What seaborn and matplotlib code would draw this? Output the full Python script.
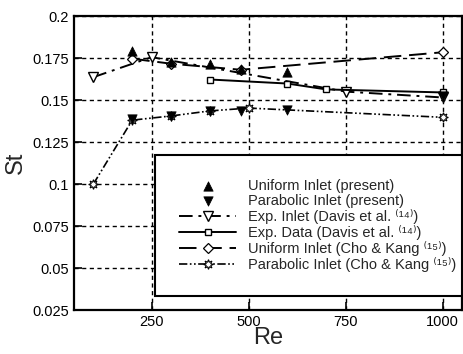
import matplotlib
matplotlib.use("Agg")
import matplotlib.pyplot as plt
import seaborn as sns
import pandas as pd

# Data
re_uni_present = [200, 300, 400, 480, 600]
st_uni_present = [0.179, 0.1725, 0.1712, 0.1685, 0.1668]

re_par_present = [200, 300, 400, 480, 600, 1000]
st_par_present = [0.1386, 0.1405, 0.1432, 0.1435, 0.1443, 0.1525]

re_exp_inlet = [100, 250, 750, 1000]
st_exp_inlet = [0.1636, 0.1755, 0.155, 0.1515]

re_exp_data = [400, 600, 700, 1000]
st_exp_data = [0.1622, 0.1598, 0.1563, 0.1545]

re_uni_cho = [200, 300, 480, 1000]
st_uni_cho = [0.1746, 0.1716, 0.168, 0.1784]

re_par_cho = [100, 200, 300, 400, 500, 1000]
st_par_cho = [0.1, 0.138, 0.1405, 0.1435, 0.1452, 0.1397]

x_ticks = [250, 500, 750, 1000]
y_ticks = [0.025, 0.05, 0.075, 0.1, 0.125, 0.15, 0.175, 0.2]
y_tick_labels = ["0.025", "0.05", "0.075", "0.1", "0.125", "0.15", "0.175", "0.2"]

labels = [
    "Uniform Inlet (present)",
    "Parabolic Inlet (present)",
    "Exp. Inlet (Davis et al. \u207d\u00b9\u2074\u207e)",
    "Exp. Data (Davis et al. \u207d\u00b9\u2074\u207e)",
    "Uniform Inlet (Cho & Kang \u207d\u00b9\u2075\u207e)",
    "Parabolic Inlet (Cho & Kang \u207d\u00b9\u2075\u207e)",
]

sns.set_style("ticks")
plt.rcParams["font.family"] = ["Liberation Sans", "DejaVu Sans"]

fig = plt.figure(figsize=(4.63, 3.54), dpi=100)
ax = fig.add_axes([74 / 463, 1 - 310 / 354, (462 - 74) / 463, (310 - 16) / 354])

sns.scatterplot(x=re_uni_present, y=st_uni_present, ax=ax, marker="^", s=45,
                color="black", edgecolor="black", label=labels[0], zorder=5)
sns.scatterplot(x=re_par_present, y=st_par_present, ax=ax, marker="v", s=45,
                color="black", edgecolor="black", label=labels[1], zorder=5)
sns.lineplot(x=re_exp_inlet, y=st_exp_inlet, ax=ax, color="black", lw=1.4,
             linestyle=(0, (7, 3, 1.5, 3)), marker="v", markersize=6.5,
             markerfacecolor="white", markeredgecolor="black", markeredgewidth=1.0,
             label=labels[2], estimator=None, sort=False)
sns.lineplot(x=re_exp_data, y=st_exp_data, ax=ax, color="black", lw=1.4,
             linestyle="-", marker="s", markersize=5,
             markerfacecolor="white", markeredgecolor="black", markeredgewidth=1.0,
             label=labels[3], estimator=None, sort=False)
sns.lineplot(x=re_uni_cho, y=st_uni_cho, ax=ax, color="black", lw=1.4,
             linestyle=(0, (9, 4)), marker="D", markersize=5,
             markerfacecolor="white", markeredgecolor="black", markeredgewidth=0.9,
             label=labels[4], estimator=None, sort=False)
sns.lineplot(x=re_par_cho, y=st_par_cho, ax=ax, color="black", lw=1.2,
             linestyle=(0, (5, 1.5, 1, 1.5, 1, 1.5)), marker=(8, 1, 0), markersize=7,
             markerfacecolor="white", markeredgecolor="black", markeredgewidth=0.8,
             label=labels[5], estimator=None, sort=False)

ax.set_xlim(50, 1050)
ax.set_ylim(0.025, 0.2)
ax.set_xticks(x_ticks)
ax.set_xticklabels([str(v) for v in x_ticks])
ax.set_yticks(y_ticks)
ax.set_yticklabels(y_tick_labels)
ax.grid(True, color="black", linestyle=(0, (3, 2.5)), linewidth=1.0)
ax.tick_params(direction="in", length=6, width=1.2, labelsize=10.5, colors="black")
for sp in ax.spines.values():
    sp.set_linewidth(1.6)
    sp.set_color("black")
ax.set_xlabel("Re", fontsize=17, labelpad=-1)
ax.set_ylabel("St", fontsize=17, labelpad=4)

leg = ax.legend(loc="lower left", bbox_to_anchor=(0.209, 0.048, 0.791, 0.49),
                mode="expand", frameon=True, fancybox=False, framealpha=1,
                edgecolor="black", fontsize=10.5, handlelength=3.9,
                handletextpad=0.8, borderpad=1.65, labelspacing=0.07,
                borderaxespad=0)
leg.get_frame().set_linewidth(1.5)
leg.set_zorder(10)

fig.savefig("out.png", dpi=100)
